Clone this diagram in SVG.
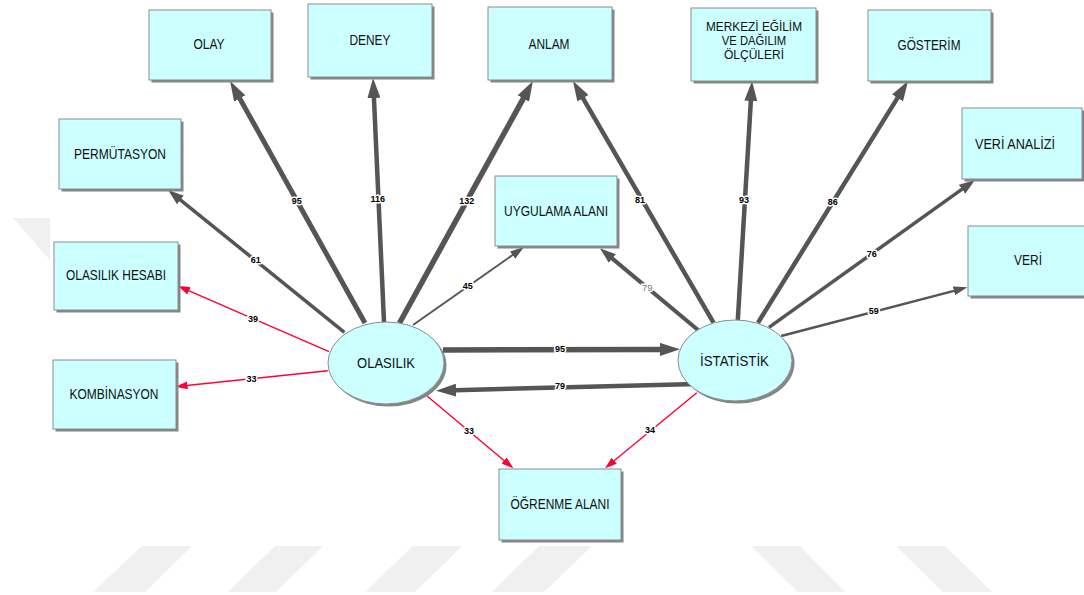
<svg xmlns="http://www.w3.org/2000/svg" width="1084" height="595" viewBox="0 0 1084 595">
<style>
.bx{fill:#CCFFFF;stroke:#8C8C8C;stroke-width:1}
.sh{fill:#858585}
.nt{font-family:"Liberation Sans",Arial,sans-serif;font-size:14.5px;fill:#111;text-anchor:middle}
.ns{font-size:13px}
.g{fill:none;stroke:#555;stroke-linecap:butt}
.r{fill:none;stroke:#FF0033;stroke-width:1.4}
.lb{font-family:"Liberation Sans",Arial,sans-serif;font-size:9px;font-weight:bold;fill:#000;text-anchor:middle;stroke:#fff;stroke-width:3;paint-order:stroke fill;stroke-linejoin:round}
.lg{font-family:"Liberation Sans",Arial,sans-serif;font-size:9.5px;fill:#777;text-anchor:middle;stroke:#fff;stroke-width:3;paint-order:stroke fill}
.wm{fill:#F0F0F0}
</style>
<defs>
<marker id="ab" markerUnits="userSpaceOnUse" markerWidth="20" markerHeight="13" refX="1" refY="6.5" orient="auto" viewBox="0 0 20 13"><path d="M0,0 L20,6.5 L0,13 z" fill="#555"/></marker>
<marker id="am" markerUnits="userSpaceOnUse" markerWidth="16" markerHeight="11" refX="1" refY="5.5" orient="auto" viewBox="0 0 16 11"><path d="M0,0 L16,5.5 L0,11 z" fill="#555"/></marker>
<marker id="as" markerUnits="userSpaceOnUse" markerWidth="14" markerHeight="9" refX="1" refY="4.5" orient="auto" viewBox="0 0 14 9"><path d="M0,0 L14,4.5 L0,9 z" fill="#555"/></marker>
<marker id="ar" markerUnits="userSpaceOnUse" markerWidth="12" markerHeight="8" refX="1" refY="4" orient="auto" viewBox="0 0 12 8"><path d="M0,0 L12,4 L0,8 z" fill="#FF0033"/></marker>
</defs>
<rect width="1084" height="595" fill="#fff"/>
<g id="watermark">
<polygon class="wm" points="13,218 50,218 50,260"/>
<polygon class="wm" points="142,546 192,546 145,592 93,592"/>
<polygon class="wm" points="275,546 323,546 276,592 228,592"/>
<polygon class="wm" points="413,546 462,546 415,592 365,592"/>
<polygon class="wm" points="539,546 592,546 544,592 492,592"/>
<polygon class="wm" points="751,546 800,546 845,592 798,592"/>
<polygon class="wm" points="896,546 945,546 992,592 943,592"/>
</g>
<g id="connectors">
<line class="g" stroke-width="5" x1="365" y1="323" x2="239.3" y2="97.6" marker-end="url(#ab)"/>
<line class="g" stroke-width="4.5" x1="384" y1="322" x2="373.9" y2="97" marker-end="url(#ab)"/>
<line class="g" stroke-width="5.5" x1="399.5" y1="323" x2="523.8" y2="97.6" marker-end="url(#ab)"/>
<line class="g" stroke-width="3.5" x1="344.4" y1="332.3" x2="179.7" y2="199.4" marker-end="url(#am)"/>
<line class="r" x1="329" y1="351.7" x2="188.1" y2="290.4" marker-end="url(#ar)"/>
<line class="r" x1="327.8" y1="370.7" x2="186.5" y2="385.5" marker-end="url(#ar)"/>
<line class="g" stroke-width="2" x1="413" y1="325" x2="513.4" y2="254.5" marker-end="url(#as)"/>
<line class="g" stroke-width="5.5" x1="443" y1="350" x2="661" y2="349.4" marker-end="url(#ab)"/>
<line class="g" stroke-width="4.5" x1="696.7" y1="384" x2="455" y2="390.2" marker-end="url(#ab)"/>
<line class="r" x1="427" y1="396" x2="504.9" y2="461.2" marker-end="url(#ar)"/>
<line class="r" x1="696.8" y1="392.7" x2="613.5" y2="461.3" marker-end="url(#ar)"/>
<line class="g" stroke-width="4.5" x1="713.5" y1="322.7" x2="582.5" y2="97.4" marker-end="url(#ab)"/>
<line class="g" stroke-width="4" x1="698" y1="330" x2="611.5" y2="257.9" marker-end="url(#am)"/>
<line class="g" stroke-width="4.5" x1="737.8" y1="320" x2="750.9" y2="100" marker-end="url(#ab)"/>
<line class="g" stroke-width="4.5" x1="758" y1="322.7" x2="898" y2="97.1" marker-end="url(#ab)"/>
<line class="g" stroke-width="3.5" x1="769" y1="327.3" x2="962.8" y2="188.7" marker-end="url(#am)"/>
<line class="g" stroke-width="2.5" x1="781.2" y1="336" x2="954.9" y2="290.6" marker-end="url(#as)"/>
<text class="lb" x="296.7" y="204">95</text>
<text class="lb" x="377.7" y="202.3">116</text>
<text class="lb" x="466.7" y="204.3">132</text>
<text class="lb" x="255.7" y="263.3">61</text>
<text class="lb" x="253" y="321.6">39</text>
<text class="lb" x="251.4" y="381.6">33</text>
<text class="lb" x="467.7" y="289">45</text>
<text class="lb" x="560" y="352.3">95</text>
<text class="lb" x="560" y="389">79</text>
<text class="lb" x="469" y="434">33</text>
<text class="lb" x="650" y="432.6">34</text>
<text class="lb" x="640" y="203.3">81</text>
<text class="lg" x="647.3" y="290.6">79</text>
<text class="lb" x="744" y="203.3">93</text>
<text class="lb" x="832.7" y="205">86</text>
<text class="lb" x="871.7" y="256.6">76</text>
<text class="lb" x="873.8" y="314">59</text>
</g>
<g id="olay"><rect class="sh" x="151.5" y="12.5" width="122" height="70"/><rect class="bx" x="149" y="10" width="122" height="70"/><text class="nt" x="209" y="48.5" textLength="31" lengthAdjust="spacingAndGlyphs">OLAY</text></g>
<g id="deney"><rect class="sh" x="310.5" y="6.5" width="124" height="73"/><rect class="bx" x="308" y="4" width="124" height="73"/><text class="nt" x="370" y="45" textLength="41" lengthAdjust="spacingAndGlyphs">DENEY</text></g>
<g id="anlam"><rect class="sh" x="490.5" y="9.5" width="124" height="73"/><rect class="bx" x="488" y="7" width="124" height="73"/><text class="nt" x="549" y="48.5" textLength="41" lengthAdjust="spacingAndGlyphs">ANLAM</text></g>
<g id="merkezi"><rect class="sh" x="693.5" y="10.5" width="125" height="73"/><rect class="bx" x="691" y="8" width="125" height="73"/><text class="nt ns" x="754" y="30.5" textLength="96" lengthAdjust="spacingAndGlyphs">MERKEZİ EĞİLİM</text><text class="nt ns" x="754" y="44.5" textLength="64.5" lengthAdjust="spacingAndGlyphs">VE DAĞILIM</text><text class="nt ns" x="754" y="58.5" textLength="60" lengthAdjust="spacingAndGlyphs">ÖLÇÜLERİ</text></g>
<g id="gosterim"><rect class="sh" x="870.5" y="12.5" width="123" height="71"/><rect class="bx" x="868" y="10" width="123" height="71"/><text class="nt" x="929" y="50" textLength="63" lengthAdjust="spacingAndGlyphs">GÖSTERİM</text></g>
<g id="permutasyon"><rect class="sh" x="61.5" y="121.5" width="122" height="70"/><rect class="bx" x="59" y="119" width="122" height="70"/><text class="nt" x="120" y="158.5" textLength="92" lengthAdjust="spacingAndGlyphs">PERMÜTASYON</text></g>
<g id="veri-analizi"><rect class="sh" x="964.5" y="110.5" width="120" height="71"/><rect class="bx" x="962" y="108" width="120" height="71"/><text class="nt" x="1015" y="148.5" textLength="80" lengthAdjust="spacingAndGlyphs">VERİ ANALİZİ</text></g>
<g id="uygulama"><rect class="sh" x="497.5" y="178.5" width="122" height="70"/><rect class="bx" x="495" y="176" width="122" height="70"/><text class="nt" x="556" y="216" textLength="104" lengthAdjust="spacingAndGlyphs">UYGULAMA ALANI</text></g>
<g id="veri"><rect class="sh" x="970.5" y="228.5" width="120" height="70"/><rect class="bx" x="968" y="226" width="120" height="70"/><text class="nt" x="1028" y="265" textLength="28" lengthAdjust="spacingAndGlyphs">VERİ</text></g>
<g id="olasilik-hesabi"><rect class="sh" x="56.5" y="244.5" width="124" height="68"/><rect class="bx" x="54" y="242" width="124" height="68"/><text class="nt" x="116" y="280" textLength="100" lengthAdjust="spacingAndGlyphs">OLASILIK HESABI</text></g>
<g id="kombinasyon"><rect class="sh" x="55.5" y="362.5" width="123" height="69"/><rect class="bx" x="53" y="360" width="123" height="69"/><text class="nt" x="114" y="398.5" textLength="89" lengthAdjust="spacingAndGlyphs">KOMBİNASYON</text></g>
<g id="ogrenme"><rect class="sh" x="501.5" y="471.5" width="122" height="71"/><rect class="bx" x="499" y="469" width="122" height="71"/><text class="nt" x="560" y="508.5" textLength="99" lengthAdjust="spacingAndGlyphs">ÖĞRENME ALANI</text></g>
<g id="olasilik"><ellipse class="sh" cx="388.5" cy="365.5" rx="58" ry="41"/><ellipse class="bx" cx="386" cy="363" rx="58" ry="41"/><text class="nt" x="386" y="368" textLength="58" lengthAdjust="spacingAndGlyphs">OLASILIK</text></g>
<g id="istatistik"><ellipse class="sh" cx="737.5" cy="363" rx="57" ry="40.5"/><ellipse class="bx" cx="735" cy="360.5" rx="57" ry="40.5"/><text class="nt" x="734.5" y="366" textLength="69" lengthAdjust="spacingAndGlyphs">İSTATİSTİK</text></g>
</svg>
